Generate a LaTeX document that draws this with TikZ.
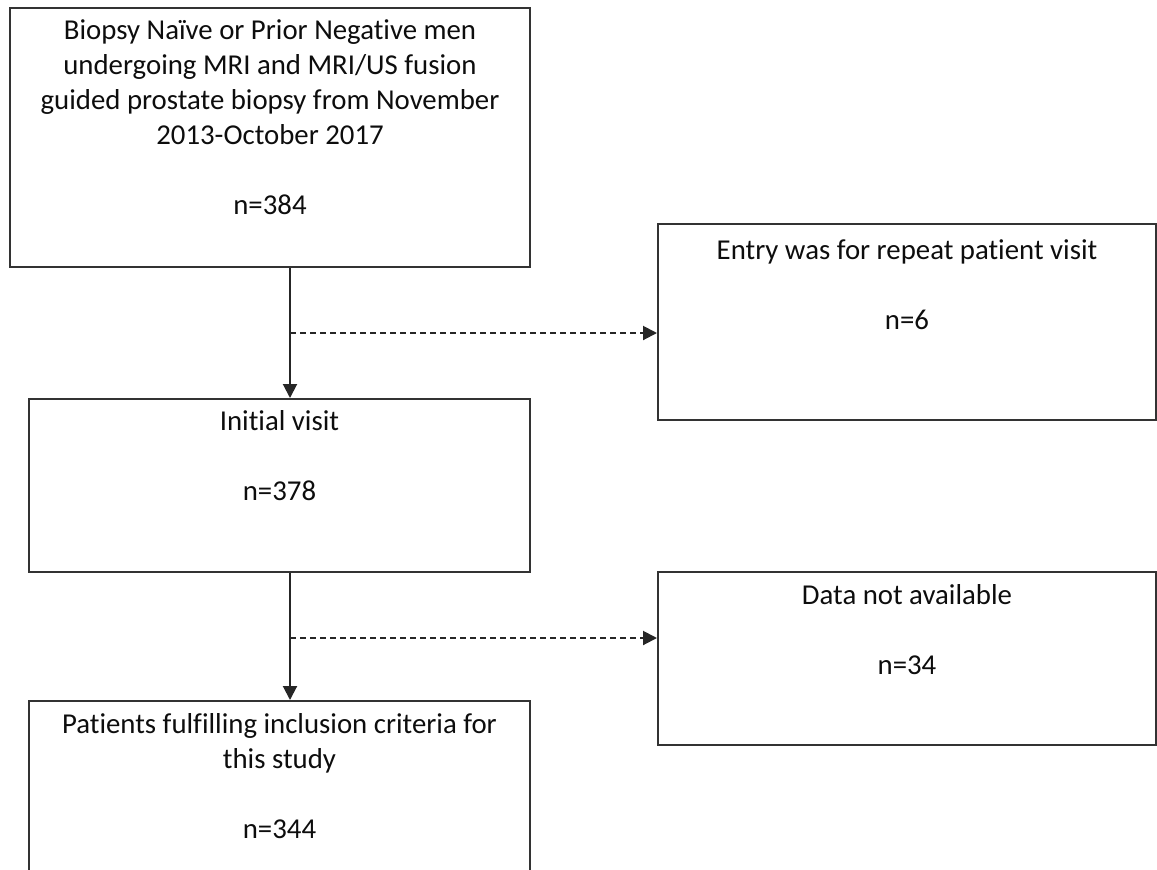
\documentclass[tikz,border=0pt]{standalone}
\usepackage{fontspec}
\setmainfont{Carlito}[Ligatures=NoCommon]
\usetikzlibrary{arrows.meta,positioning}

\tikzset{
  box/.style={draw=black!80, line width=1pt, inner sep=0pt},
  boxtext/.style={align=center, text=black!95, inner sep=0pt,
    font=\fontsize{14.4}{17.5}\selectfont},
  arr/.style={draw=black!85, line width=1pt, -{Triangle[length=7pt,width=7pt]}},
  dasharr/.style={arr, dash pattern=on 3pt off 2pt}
}

\begin{document}
\begin{tikzpicture}[x=0.5pt, y=-0.5pt]
\useasboundingbox (0,0) rectangle (1157,869);
\clip (0,0) rectangle (1157,869);
% left column
\node[box, minimum width=260pt, minimum height=129.5pt] (start) at (270,137.5) {};
\node[box, minimum width=250.5pt, minimum height=86.5pt] (initial) at (279.5,485.5) {};
\node[box, minimum width=250.5pt, minimum height=120pt] (incl) at (279.5,821) {};
% right column
\node[box, minimum width=249pt, minimum height=98pt] (repeat) at (907,322) {};
\node[box, minimum width=249pt, minimum height=86.5pt] (navail) at (907,658.5) {};
% texts
\node[boxtext, below=6pt of start.north] (starttext) {Biopsy Naïve or Prior Negative men\\undergoing MRI and MRI/US fusion\\guided prostate biopsy from November\\2013-October 2017\\[17.5pt]n=384};
\node[boxtext, below=6pt of initial.north] (initialtext) {Initial visit\\[17.5pt]n=378};
\node[boxtext, below=6.5pt of incl.north] (incltext) {Patients fulfilling inclusion criteria for\\this study\\[17.5pt]n=344};
\node[boxtext, below=8pt of repeat.north] (repeattext) {Entry was for repeat patient visit\\[17.5pt]n=6};
\node[boxtext, below=6.5pt of navail.north] (navailtext) {Data not available\\[17.5pt]n=34};
% connectors
\coordinate (spine) at (290,0);
\coordinate (split1) at (290,333);
\coordinate (split2) at (290,638);
\draw[arr] (start.south -| spine) -- (initial.north -| spine);
\draw[arr] (initial.south -| spine) -- (incl.north -| spine);
\draw[dasharr] (split1) -- (split1 -| repeat.west);
\draw[dasharr] (split2) -- (split2 -| navail.west);
\end{tikzpicture}
\end{document}
